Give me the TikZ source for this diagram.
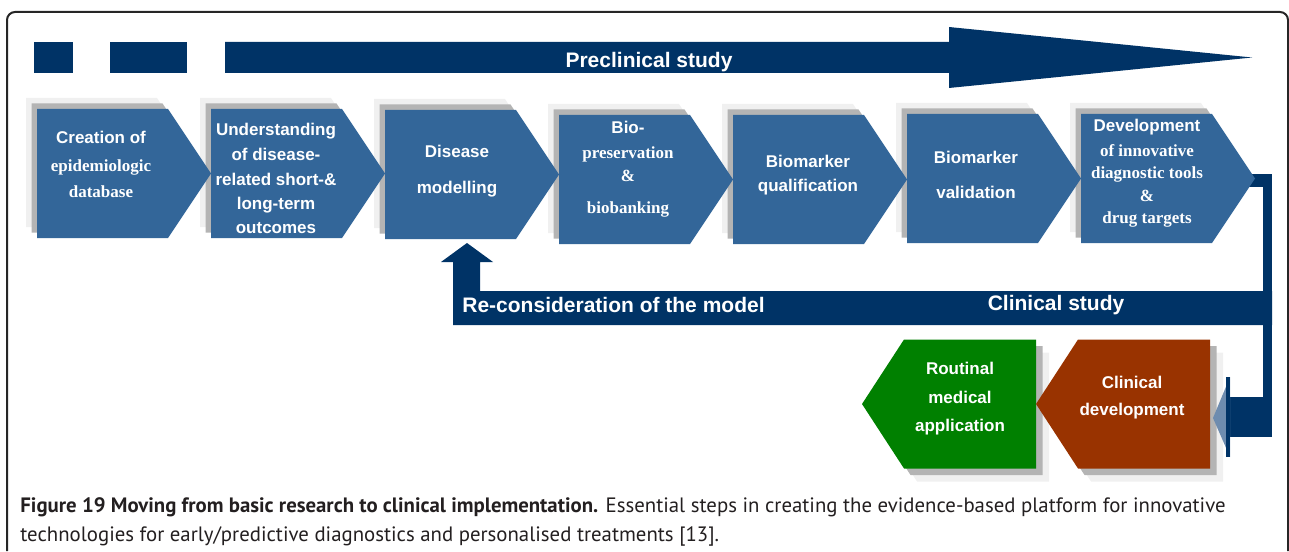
\documentclass[tikz,border=0pt]{standalone}
\usepackage{fontspec}
\setmainfont{Liberation Serif}
\setsansfont{Liberation Sans}
\newfontfamily\capfont{PT Sans}

\definecolor{navy}{RGB}{0,51,102}
\definecolor{boxblue}{RGB}{51,102,153}
\definecolor{shadegray}{RGB}{180,180,180}
\definecolor{shadelight}{RGB}{240,240,240}
\definecolor{stepgreen}{RGB}{0,128,0}
\definecolor{stepbrown}{RGB}{153,51,0}
\definecolor{headblue}{RGB}{110,140,175}
\definecolor{captext}{RGB}{35,31,32}

\newcommand\srf[1]{{\rmfamily\bfseries #1}}

\tikzset{
  stepfont/.style={font=\fontsize{8.5}{12}\selectfont\sffamily\bfseries,
    text=white, align=center, inner sep=0pt},
  barfont/.style={font=\fontsize{10.5}{12}\selectfont\sffamily\bfseries,
    text=white, inner sep=0pt}
}

\begin{document}
\begin{tikzpicture}[x=0.5pt, y=-0.5pt]
\useasboundingbox (0,0) rectangle (1289,551);

% frame
\draw[black!85, line width=1pt, rounded corners=4pt]
  (7,551) -- (7,12) -- (1288,12) -- (1288,551);

% preclinical bar
\fill[navy] (34,42) rectangle (73,73);
\fill[navy] (110,42) rectangle (187,73);
\fill[navy] (225,42) -- (949,42) -- (949,27) -- (1252,57.5) -- (949,88)
  -- (949,73) -- (225,73) -- cycle;
\node[barfont] (preclin) at (649,62) {Preclinical study};

% clinical loop
\fill[navy] (1240,174) rectangle (1272,187);
\fill[navy] (1263,174) rectangle (1272,437);
\fill[navy] (1226,397) rectangle (1272,437);
\fill[navy] (453,325) -- (453,262) -- (441,262) -- (467,243) -- (493,262)
  -- (480,262) -- (480,291) -- (1272,291) -- (1272,325) -- cycle;
\node[barfont, anchor=west] (reconsider) at (462,305) {Re-consideration of the model};
\node[barfont] (clinstudy) at (1056,305) {Clinical study};

% preclinical steps
\foreach \d/\c in {-11/shadelight, -5.5/shadegray, 0/boxblue}
  \foreach \x/\y in {37/109, 211/109, 385/110, 559/115, 733/115, 907/114, 1081/114}
    \fill[\c, shift={(\x+\d,\y+\d)}]
      (0,0) -- (131,0) -- (174,64.5) -- (131,129) -- (0,129) -- cycle;

\node[stepfont] (creation) at (101,164)
  {Creation of\\[2pt]\srf{epidemiologic}\\[1pt]\srf{database}};
\node[stepfont] (understanding) at (276,178.5)
  {Understanding\\[0.5pt]of disease-\\[0.5pt]related short-\&\\long-term\\outcomes};
\node[stepfont] (modelling) at (457,171) {Disease\\[6pt]modelling};
\node[stepfont] (biobanking) at (628,169.5)
  {Bio-\\[0.5pt]\srf{preservation}\\[-0.5pt]\srf{\&}\\[4pt]\srf{biobanking}};
\node[stepfont] (qualification) at (808,175.5) {Biomarker\\qualification};
\node[stepfont] (validation) at (976,175) {Biomarker\\[5.5pt]validation};
\node[stepfont] (development) at (1147,173.5)
  {Development\\[0.5pt]\srf{of innovative}\\[-1pt]\srf{diagnostic tools}\\[-0.5pt]\srf{\&}\\[-1pt]\srf{drug targets}};

% clinical steps
\foreach \d/\c in {13/shadelight, 6.5/shadegray, 0/}
  \foreach \x/\col in {862/stepgreen, 1036/stepbrown}
    \fill[shift={(\x+\d,339.5+\d)}, fill=\ifx\c\empty\col\else\c\fi]
      (0,64.5) -- (42,0) -- (174,0) -- (174,129) -- (42,129) -- cycle;

\fill[headblue] (1230,377) -- (1213,418) -- (1230,457) -- cycle;
\fill[navy] (1226,377) rectangle (1230,457);

\node[stepfont] (routine) at (960,399)
  {Routinal\\[2.5pt]medical\\[2pt]application};
\node[stepfont] (clinical) at (1132,398) {Clinical\\[1.5pt]development};

% caption
\node[anchor=west, align=left, inner sep=0pt, text=captext,
  font=\capfont\fontsize{10.4}{14.5}\selectfont] (caption) at (20,522)
  {\textbf{Figure 19 Moving from basic research to clinical implementation.}
   Essential steps in creating the evidence-based platform for innovative\\
   technologies for early/predictive diagnostics and personalised treatments [13].};
\end{tikzpicture}
\end{document}
